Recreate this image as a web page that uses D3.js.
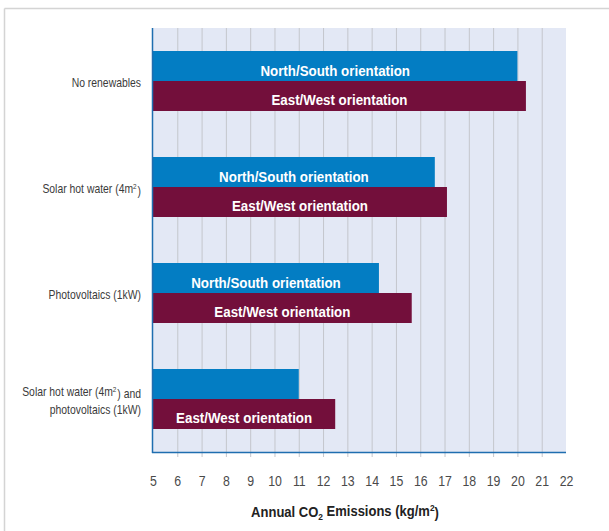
<!DOCTYPE html>
<html>
<head>
<meta charset="utf-8">
<script src="https://cdn.jsdelivr.net/npm/d3@7"></script>
<style>
  html, body { margin: 0; padding: 0; background: #fff; }
  svg { display: block; }
  text { font-family: "Liberation Sans", Arial, Helvetica, sans-serif; }
</style>
</head>
<body>
<script>
// Annual CO2 emissions per square metre by renewable option and orientation
const categories = [
  ["No renewables"],
  ["Solar hot water (4m²)"],
  ["Photovoltaics (1kW)"],
  ["Solar hot water (4m²) and", "photovoltaics (1kW)"]
];
const northSouth = [20.0, 16.6, 14.3, 11.0];
const eastWest = [20.35, 17.1, 15.65, 12.5];
const northSouthLabels = ["North/South orientation", "North/South orientation", "North/South orientation", ""];
const eastWestLabels = ["East/West orientation", "East/West orientation", "East/West orientation", "East/West orientation"];
const xTicks = d3.range(5, 23);
const xDomain = [5, 22];

const W = 609, H = 531;
const plot = { left: 153, right: 566, top: 28, bottom: 452 };

const svg = d3.select("body").append("svg").attr("width", W).attr("height", H);

// condensed text: anchored at (x, y), squeezed horizontally
function condensedText(parent, x, y, sx) {
  return parent.append("g").attr("transform", `translate(${x},${y}) scale(${sx},1)`)
    .append("text").attr("x", 0).attr("y", 0);
}

// outer frame (top and left edges)
svg.append("line").attr("x1", 4.5).attr("x2", W).attr("y1", 8.5).attr("y2", 8.5)
  .attr("stroke", "#d4d4d4").attr("stroke-width", 1.5);
svg.append("line").attr("x1", 4.5).attr("x2", 4.5).attr("y1", 8.5).attr("y2", H)
  .attr("stroke", "#d4d4d4").attr("stroke-width", 1.5);

const x = d3.scaleLinear().domain(xDomain).range([plot.left, plot.right]);
const y = d3.scaleBand().domain(d3.range(categories.length))
  .range([plot.top, plot.bottom]).paddingInner(0.434).paddingOuter(0.217);

// plot background
svg.append("rect").attr("x", plot.left).attr("y", plot.top)
  .attr("width", plot.right - plot.left).attr("height", plot.bottom - plot.top)
  .attr("fill", "#e3e8f5");

// vertical gridlines with short ticks below the axis
const xAxis = d3.axisBottom(x).tickValues(xTicks).tickFormat(d3.format("d"))
  .tickSize(-(plot.bottom - plot.top)).tickSizeOuter(0).tickPadding(0);
const gx = svg.append("g").attr("transform", `translate(0,${plot.bottom})`).call(xAxis);
gx.select(".domain").remove();
gx.selectAll(".tick line")
  .attr("y2", -(plot.bottom - plot.top)).attr("y1", 5)
  .attr("stroke", "#c4c6cc").attr("stroke-width", 1)
  .filter(d => d === xDomain[0] || d === xDomain[1]).remove();
gx.selectAll(".tick text").remove();
gx.selectAll(".tick").each(function (d) {
  condensedText(d3.select(this), 0, 29, 0.85)
    .attr("dy", "0.35em").attr("text-anchor", "middle")
    .attr("fill", "#4a4a4a").style("font-size", "14.5px")
    .text(d3.format("d")(d));
});

// bars
const half = y.bandwidth() / 2;
const groups = svg.append("g").selectAll("g").data(categories).join("g")
  .attr("transform", (d, i) => `translate(0,${y(i)})`);

groups.append("rect").attr("class", "ns")
  .attr("x", x(xDomain[0])).attr("y", 0)
  .attr("width", (d, i) => x(northSouth[i]) - x(xDomain[0]))
  .attr("height", half).attr("fill", "#037dc3");
groups.append("rect").attr("class", "ew")
  .attr("x", x(xDomain[0])).attr("y", half)
  .attr("width", (d, i) => x(eastWest[i]) - x(xDomain[0]))
  .attr("height", half).attr("fill", "#730f3b");

groups.each(function (d, i) {
  const g = d3.select(this);
  if (northSouthLabels[i]) {
    condensedText(g, (x(xDomain[0]) + x(northSouth[i])) / 2, half - 5, 0.92)
      .attr("text-anchor", "middle").attr("fill", "#fff")
      .style("font-size", "14.5px").style("font-weight", "bold")
      .text(northSouthLabels[i]);
  }
  if (eastWestLabels[i]) {
    condensedText(g, (x(xDomain[0]) + x(eastWest[i])) / 2, 2 * half - 6, 0.92)
      .attr("text-anchor", "middle").attr("fill", "#fff")
      .style("font-size", "14.5px").style("font-weight", "bold")
      .text(eastWestLabels[i]);
  }
});

// axis lines
svg.append("line").attr("x1", plot.left - 0.5).attr("x2", plot.left - 0.5)
  .attr("y1", plot.top).attr("y2", plot.bottom + 1)
  .attr("stroke", "#1f6eb0").attr("stroke-width", 1.5);
svg.append("line").attr("x1", plot.left - 1).attr("x2", plot.right)
  .attr("y1", plot.bottom + 0.5).attr("y2", plot.bottom + 0.5)
  .attr("stroke", "#1f6eb0").attr("stroke-width", 1.5);

// category labels, with superscript 2 in m²
function writeRich(sel, str) {
  const parts = str.split("²");
  parts.forEach((p, k) => {
    if (p) sel.append("tspan").text(p);
    if (k < parts.length - 1) {
      sel.append("tspan").attr("dy", "-0.45em").style("font-size", "8px").text("2");
      sel.append("tspan").attr("dy", "0.45em").text("\u200a");
    }
  });
}
categories.forEach((lines, i) => {
  const cy = y(i) + half;
  lines.forEach((line, k) => {
    const t = condensedText(svg, 141, cy + 1 + (k - (lines.length - 1) / 2) * 18, 0.8)
      .attr("dy", "0.35em").attr("text-anchor", "end")
      .attr("fill", "#3a3a3a").style("font-size", "13px");
    writeRich(t, line);
  });
});

// axis title
const title = condensedText(svg, 345, 517, 0.93)
  .attr("text-anchor", "middle").attr("fill", "#222")
  .style("font-size", "14px").style("font-weight", "bold");
title.append("tspan").text("Annual CO");
title.append("tspan").attr("dy", "0.3em").style("font-size", "9px").text("2");
title.append("tspan").attr("dy", "-0.3em").text(" Emissions (kg/m");
title.append("tspan").attr("dy", "-0.45em").style("font-size", "9px").text("2");
title.append("tspan").attr("dy", "0.45em").text(")");
</script>
</body>
</html>
